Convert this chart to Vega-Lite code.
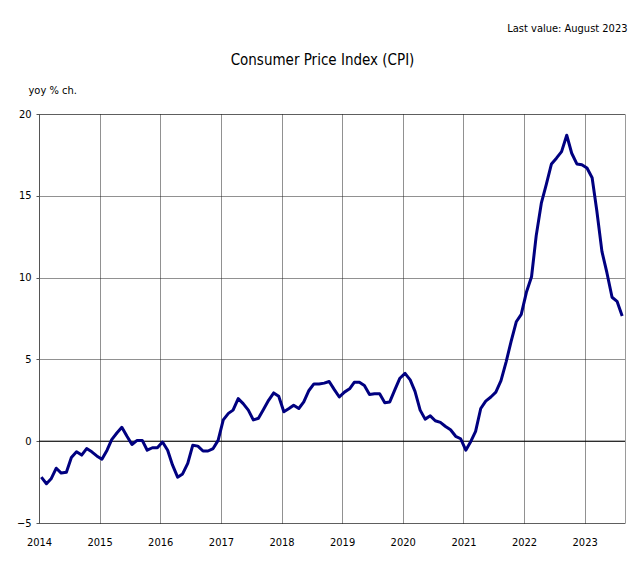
{
  "$schema": "https://vega.github.io/schema/vega-lite/v6.json",
  "width": 586,
  "height": 409,
  "autosize": {"type": "none"},
  "padding": {"left": 39, "top": 114, "right": 8, "bottom": 40},
  "background": "white",
  "config": {
    "font": "DejaVu Sans Condensed, Liberation Sans, sans-serif",
    "view": {"stroke": "#9a9a9a", "strokeWidth": 1}
  },
  "data": {
    "values": [
      {"date": "2014-01-15T00:00", "value": -2.2},
      {"date": "2014-02-15T00:00", "value": -2.6},
      {"date": "2014-03-15T00:00", "value": -2.3},
      {"date": "2014-04-15T00:00", "value": -1.65},
      {"date": "2014-05-15T00:00", "value": -1.95},
      {"date": "2014-06-15T00:00", "value": -1.9},
      {"date": "2014-07-15T00:00", "value": -1.0},
      {"date": "2014-08-15T00:00", "value": -0.65},
      {"date": "2014-09-15T00:00", "value": -0.85},
      {"date": "2014-10-15T00:00", "value": -0.45},
      {"date": "2014-11-15T00:00", "value": -0.65},
      {"date": "2014-12-15T00:00", "value": -0.9},
      {"date": "2015-01-15T00:00", "value": -1.1},
      {"date": "2015-02-15T00:00", "value": -0.55},
      {"date": "2015-03-15T00:00", "value": 0.1},
      {"date": "2015-04-15T00:00", "value": 0.5},
      {"date": "2015-05-15T00:00", "value": 0.85},
      {"date": "2015-06-15T00:00", "value": 0.3},
      {"date": "2015-07-15T00:00", "value": -0.2},
      {"date": "2015-08-15T00:00", "value": 0.05},
      {"date": "2015-09-15T00:00", "value": 0.05},
      {"date": "2015-10-15T00:00", "value": -0.55},
      {"date": "2015-11-15T00:00", "value": -0.4},
      {"date": "2015-12-15T00:00", "value": -0.4},
      {"date": "2016-01-15T00:00", "value": -0.05},
      {"date": "2016-02-15T00:00", "value": -0.55},
      {"date": "2016-03-15T00:00", "value": -1.45},
      {"date": "2016-04-15T00:00", "value": -2.2},
      {"date": "2016-05-15T00:00", "value": -2.0},
      {"date": "2016-06-15T00:00", "value": -1.35},
      {"date": "2016-07-15T00:00", "value": -0.25},
      {"date": "2016-08-15T00:00", "value": -0.3},
      {"date": "2016-09-15T00:00", "value": -0.6},
      {"date": "2016-10-15T00:00", "value": -0.6},
      {"date": "2016-11-15T00:00", "value": -0.45},
      {"date": "2016-12-15T00:00", "value": 0.05},
      {"date": "2017-01-15T00:00", "value": 1.3},
      {"date": "2017-02-15T00:00", "value": 1.7},
      {"date": "2017-03-15T00:00", "value": 1.9},
      {"date": "2017-04-15T00:00", "value": 2.6},
      {"date": "2017-05-15T00:00", "value": 2.3},
      {"date": "2017-06-15T00:00", "value": 1.9},
      {"date": "2017-07-15T00:00", "value": 1.3},
      {"date": "2017-08-15T00:00", "value": 1.4},
      {"date": "2017-09-15T00:00", "value": 1.95},
      {"date": "2017-10-15T00:00", "value": 2.5},
      {"date": "2017-11-15T00:00", "value": 2.95},
      {"date": "2017-12-15T00:00", "value": 2.75},
      {"date": "2018-01-15T00:00", "value": 1.8},
      {"date": "2018-02-15T00:00", "value": 2.0},
      {"date": "2018-03-15T00:00", "value": 2.2},
      {"date": "2018-04-15T00:00", "value": 2.0},
      {"date": "2018-05-15T00:00", "value": 2.4},
      {"date": "2018-06-15T00:00", "value": 3.1},
      {"date": "2018-07-15T00:00", "value": 3.5},
      {"date": "2018-08-15T00:00", "value": 3.5},
      {"date": "2018-09-15T00:00", "value": 3.55},
      {"date": "2018-10-15T00:00", "value": 3.65},
      {"date": "2018-11-15T00:00", "value": 3.15},
      {"date": "2018-12-15T00:00", "value": 2.7},
      {"date": "2019-01-15T00:00", "value": 3.0},
      {"date": "2019-02-15T00:00", "value": 3.2},
      {"date": "2019-03-15T00:00", "value": 3.6},
      {"date": "2019-04-15T00:00", "value": 3.6},
      {"date": "2019-05-15T00:00", "value": 3.4},
      {"date": "2019-06-15T00:00", "value": 2.85},
      {"date": "2019-07-15T00:00", "value": 2.9},
      {"date": "2019-08-15T00:00", "value": 2.9},
      {"date": "2019-09-15T00:00", "value": 2.35},
      {"date": "2019-10-15T00:00", "value": 2.4},
      {"date": "2019-11-15T00:00", "value": 3.15},
      {"date": "2019-12-15T00:00", "value": 3.85},
      {"date": "2020-01-15T00:00", "value": 4.15},
      {"date": "2020-02-15T00:00", "value": 3.75},
      {"date": "2020-03-15T00:00", "value": 3.05},
      {"date": "2020-04-15T00:00", "value": 1.9},
      {"date": "2020-05-15T00:00", "value": 1.35},
      {"date": "2020-06-15T00:00", "value": 1.55},
      {"date": "2020-07-15T00:00", "value": 1.25},
      {"date": "2020-08-15T00:00", "value": 1.15},
      {"date": "2020-09-15T00:00", "value": 0.9},
      {"date": "2020-10-15T00:00", "value": 0.7},
      {"date": "2020-11-15T00:00", "value": 0.3},
      {"date": "2020-12-15T00:00", "value": 0.15},
      {"date": "2021-01-15T00:00", "value": -0.55},
      {"date": "2021-02-15T00:00", "value": 0.0},
      {"date": "2021-03-15T00:00", "value": 0.6},
      {"date": "2021-04-15T00:00", "value": 2.0},
      {"date": "2021-05-15T00:00", "value": 2.45},
      {"date": "2021-06-15T00:00", "value": 2.7},
      {"date": "2021-07-15T00:00", "value": 3.0},
      {"date": "2021-08-15T00:00", "value": 3.7},
      {"date": "2021-09-15T00:00", "value": 4.85},
      {"date": "2021-10-15T00:00", "value": 6.1},
      {"date": "2021-11-15T00:00", "value": 7.3},
      {"date": "2021-12-15T00:00", "value": 7.75},
      {"date": "2022-01-15T00:00", "value": 9.1},
      {"date": "2022-02-15T00:00", "value": 10.05},
      {"date": "2022-03-15T00:00", "value": 12.55},
      {"date": "2022-04-15T00:00", "value": 14.55},
      {"date": "2022-05-15T00:00", "value": 15.7},
      {"date": "2022-06-15T00:00", "value": 16.95},
      {"date": "2022-07-15T00:00", "value": 17.3},
      {"date": "2022-08-15T00:00", "value": 17.7},
      {"date": "2022-09-15T00:00", "value": 18.7},
      {"date": "2022-10-15T00:00", "value": 17.6},
      {"date": "2022-11-15T00:00", "value": 16.95},
      {"date": "2022-12-15T00:00", "value": 16.9},
      {"date": "2023-01-15T00:00", "value": 16.7},
      {"date": "2023-02-15T00:00", "value": 16.1},
      {"date": "2023-03-15T00:00", "value": 14.1},
      {"date": "2023-04-15T00:00", "value": 11.6},
      {"date": "2023-05-15T00:00", "value": 10.3},
      {"date": "2023-06-15T00:00", "value": 8.8},
      {"date": "2023-07-15T00:00", "value": 8.55},
      {"date": "2023-08-15T00:00", "value": 7.65}
    ]
  },
  "layer": [
    {
      "data": {"values": [{"zero": 0}]},
      "mark": {"type": "rule", "color": "#000000", "strokeWidth": 1},
      "encoding": {
        "y": {
          "field": "zero",
          "type": "quantitative",
          "axis": {
            "orient": "right",
            "labels": false,
            "ticks": false,
            "domain": false,
            "grid": false,
            "title": "Last value: August 2023",
            "titleAngle": 0,
            "titleAlign": "right",
            "titleBaseline": "middle",
            "titleX": 2,
            "titleY": -86,
            "titleFontSize": 11,
            "titleFontWeight": "normal",
            "titleColor": "#000000"
          }
        }
      }
    },
    {
      "mark": {"type": "line", "color": "#000080", "strokeWidth": 3, "strokeJoin": "round"},
      "encoding": {
        "x": {
          "field": "date",
          "type": "temporal",
          "scale": {"domain": [{"year": 2014, "month": 1, "date": 1}, {"year": 2023, "month": 9, "date": 1}]},
          "axis": {
            "orient": "bottom",
            "format": "%Y",
            "tickCount": {"interval": "year", "step": 1},
            "grid": true,
            "gridColor": "#222222",
            "gridDash": [1, 1],
            "domain": false,
            "ticks": false,
            "labelPadding": 13,
            "labelFontSize": 11,
            "labelColor": "#000000",
            "labelAlign": "center",
            "labelDx": 3,
            "labelFlush": false,
            "labelOverlap": false,
            "title": "Consumer Price Index (CPI)",
            "titleFontSize": 15,
            "titleFontWeight": "normal",
            "titleColor": "#000000",
            "titleAlign": "center",
            "titleBaseline": "middle",
            "titleX": 283,
            "titleY": -464
          }
        },
        "y": {
          "field": "value",
          "type": "quantitative",
          "scale": {"domain": [-5, 20], "nice": false},
          "axis": {
            "orient": "left",
            "values": [-5, 0, 5, 10, 15, 20],
            "grid": true,
            "gridColor": "#222222",
            "gridDash": [1, 1],
            "domainColor": "#555555",
            "tickColor": "#555555",
            "tickSize": 3,
            "labelFontSize": 11,
            "labelColor": "#000000",
            "labelPadding": 5,
            "title": "yoy % ch.",
            "titleAngle": 0,
            "titleAlign": "left",
            "titleBaseline": "middle",
            "titleX": -11,
            "titleY": -24,
            "titleFontSize": 11,
            "titleFontWeight": "normal",
            "titleColor": "#000000"
          }
        }
      }
    }
  ],
  "resolve": {"axis": {"y": "independent"}}
}
